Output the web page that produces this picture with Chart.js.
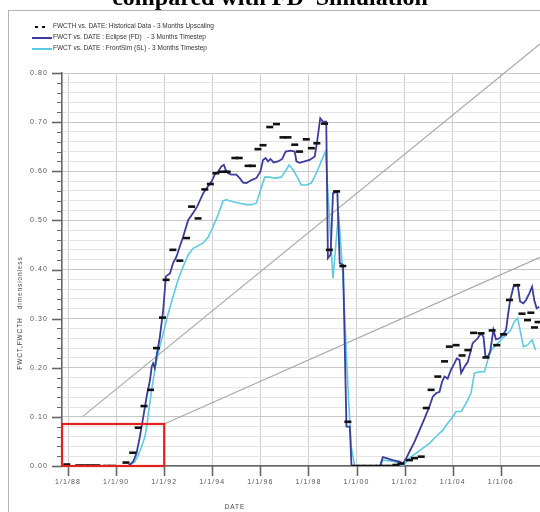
<!DOCTYPE html>
<html>
<head>
<meta charset="utf-8">
<script src="https://cdn.jsdelivr.net/npm/chart.js@4.4.1/dist/chart.umd.min.js"></script>
<style>
  html, body { margin: 0; padding: 0; background: #fff; }
  #wrap { position: relative; width: 540px; height: 512px; overflow: hidden; }
  #plot { position: absolute; left: 0; top: 0; }
  .title { position: absolute; left: 0; top: -15px; width: 540px; text-align: center;
           font: bold 24px "Liberation Serif", serif; line-height: 24px; white-space: pre; color: #000; }
  .legend { position: absolute; left: 30px; top: 21px; font: 6.5px "Liberation Sans", Arial, sans-serif;
            line-height: 10.8px; color: #333; }
  .legend div { position: relative; padding-left: 23px; height: 10.8px; white-space: pre; }
  .legend .swatch { position: absolute; left: 2px; top: 5px; width: 20px; height: 2px; }
  .legend .dot { position: absolute; top: 5px; width: 3px; height: 2px; background: #111; }
</style>
</head>
<body>
<div id="wrap">
  <canvas id="plot" width="540" height="512"></canvas>
  <div class="title">compared with FD  Simulation</div>
  <div class="legend">
    <div><span class="dot" style="left:5px"></span><span class="dot" style="left:12px"></span>FWCTH vs. DATE: Historical Data - 3 Months Upscaling</div>
    <div><span class="swatch" style="background:#3c3c9c"></span>FWCT vs. DATE : Eclipse (FD)   - 3 Months Timestep</div>
    <div><span class="swatch" style="background:#5ccbe0"></span>FWCT vs. DATE : FrontSim (SL) - 3 Months Timestep</div>
  </div>
</div>
<script>
// axis ticks (x in decimal years, labelled on New Year's Day)
const xTickYears = [1988, 1990, 1992, 1994, 1996, 1998, 2000, 2002, 2004, 2006];
const xTickLabels = ['1/1/88', '1/1/90', '1/1/92', '1/1/94', '1/1/96', '1/1/98', '1/1/00', '1/1/02', '1/1/04', '1/1/06'];
const yTickLabels = ['0.00', '0.10', '0.20', '0.30', '0.40', '0.50', '0.60', '0.70', '0.80'];

// FWCTH - historical water cut, 3 month upscaling
const histYears = [1987.95, 1988.45, 1988.7, 1988.95, 1989.2, 1989.6, 1989.85, 1990.41, 1990.69, 1990.92,
  1991.16, 1991.43, 1991.68, 1991.93, 1992.08, 1992.36, 1992.65, 1992.93, 1993.14, 1993.41,
  1993.69, 1993.92, 1994.15, 1994.4, 1994.62, 1994.94, 1995.12, 1995.49, 1995.67, 1995.9,
  1996.11, 1996.39, 1996.67, 1996.94, 1997.15, 1997.43, 1997.63, 1997.91, 1998.12, 1998.35,
  1998.67, 1998.87, 1999.17, 1999.43, 1999.64, 1999.95, 2000.2, 2000.45, 2000.7, 2000.95,
  2001.2, 2001.45, 2001.64, 2001.85, 2002.2, 2002.41, 2002.69, 2002.9, 2003.1, 2003.38,
  2003.66, 2003.86, 2004.14, 2004.39, 2004.63, 2004.87, 2005.18, 2005.38, 2005.64, 2005.83,
  2006.11, 2006.36, 2006.66, 2006.88, 2007.11, 2007.25, 2007.4, 2007.55];
const histValues = [0.003, 0.001, 0.001, 0.001, 0.001, 0.0, 0.0, 0.007, 0.027, 0.078,
  0.122, 0.155, 0.240, 0.302, 0.379, 0.440, 0.418, 0.464, 0.528, 0.504,
  0.563, 0.574, 0.596, 0.599, 0.599, 0.627, 0.627, 0.611, 0.611, 0.645,
  0.653, 0.690, 0.696, 0.669, 0.669, 0.654, 0.640, 0.665, 0.647, 0.657,
  0.697, 0.440, 0.559, 0.407, 0.090, 0.0, 0.0, 0.0, 0.0, 0.0,
  0.0, 0.0, 0.002, 0.005, 0.012, 0.016, 0.019, 0.118, 0.155, 0.182,
  0.213, 0.243, 0.246, 0.225, 0.236, 0.271, 0.270, 0.221, 0.276, 0.246,
  0.268, 0.338, 0.368, 0.310, 0.297, 0.312, 0.282, 0.293];

// FWCT - Eclipse (FD), 3 month timestep
const eclipseYears = [1987.8, 1990.5, 1990.71, 1990.85, 1990.99, 1991.13, 1991.27, 1991.41, 1991.48, 1991.54,
  1991.61, 1991.68, 1991.82, 1991.96, 1992.07, 1992.24, 1992.37, 1992.51, 1992.65, 1992.79,
  1993.0, 1993.2, 1993.37, 1993.62, 1993.8, 1993.97, 1994.1, 1994.24, 1994.38, 1994.48,
  1994.56, 1994.66, 1994.8, 1995.0, 1995.14, 1995.28, 1995.42, 1995.63, 1995.83, 1996.0,
  1996.11, 1996.22, 1996.32, 1996.42, 1996.55, 1996.73, 1996.91, 1997.05, 1997.25, 1997.43,
  1997.5, 1997.63, 1997.84, 1998.05, 1998.26, 1998.35, 1998.49, 1998.6, 1998.74, 1998.81,
  1998.92, 1999.02, 1999.2, 1999.3, 1999.44, 1999.58, 1999.72, 1999.79, 2000.98, 2001.09,
  2001.25, 2001.5, 2001.79, 2001.93, 2002.07, 2002.2, 2002.41, 2002.62, 2002.83, 2003.03,
  2003.17, 2003.31, 2003.45, 2003.56, 2003.66, 2003.79, 2003.93, 2004.07, 2004.17, 2004.28,
  2004.35, 2004.49, 2004.63, 2004.83, 2005.04, 2005.18, 2005.28, 2005.36, 2005.46, 2005.56,
  2005.64, 2005.69, 2005.8, 2005.94, 2006.08, 2006.22, 2006.29, 2006.39, 2006.53, 2006.7,
  2006.8, 2006.94, 2007.05, 2007.19, 2007.3, 2007.39, 2007.49, 2007.6];
const eclipseValues = [0.0, 0.0, 0.009, 0.026, 0.060, 0.100, 0.141, 0.175, 0.202, 0.209,
  0.199, 0.223, 0.263, 0.318, 0.386, 0.392, 0.413, 0.426, 0.447, 0.467,
  0.501, 0.515, 0.528, 0.555, 0.568, 0.579, 0.593, 0.599, 0.610, 0.613,
  0.603, 0.596, 0.593, 0.593, 0.586, 0.577, 0.576, 0.582, 0.586, 0.599,
  0.623, 0.627, 0.620, 0.625, 0.618, 0.620, 0.625, 0.640, 0.642, 0.640,
  0.620, 0.617, 0.620, 0.623, 0.630, 0.657, 0.708, 0.701, 0.701, 0.423,
  0.430, 0.555, 0.559, 0.413, 0.409, 0.080, 0.080, 0.0, 0.0, 0.018,
  0.016, 0.012, 0.009, 0.005, 0.016, 0.029, 0.049, 0.073, 0.097, 0.121,
  0.141, 0.148, 0.151, 0.172, 0.182, 0.178, 0.196, 0.209, 0.219, 0.216,
  0.189, 0.202, 0.212, 0.250, 0.260, 0.270, 0.263, 0.223, 0.223, 0.233,
  0.260, 0.277, 0.258, 0.260, 0.267, 0.277, 0.304, 0.338, 0.365, 0.369,
  0.335, 0.331, 0.338, 0.352, 0.365, 0.338, 0.321, 0.324];

// FWCT - FrontSim (SL), 3 month timestep
const frontsimYears = [1987.8, 1990.55, 1990.78, 1990.92, 1991.06, 1991.2, 1991.29, 1991.38, 1991.48, 1991.61,
  1991.75, 1991.89, 1992.03, 1992.17, 1992.37, 1992.58, 1992.79, 1993.0, 1993.2, 1993.37,
  1993.62, 1993.83, 1994.03, 1994.24, 1994.45, 1994.59, 1994.86, 1995.14, 1995.42, 1995.63,
  1995.83, 1996.01, 1996.18, 1996.39, 1996.6, 1996.87, 1997.08, 1997.19, 1997.36, 1997.56,
  1997.7, 1997.91, 1998.12, 1998.33, 1998.53, 1998.71, 1999.02, 1999.25, 1999.43, 1999.57,
  1999.67, 1999.78, 1999.92, 2001.0, 2001.09, 2001.5, 2001.79, 2001.93, 2002.2, 2002.48,
  2002.75, 2003.03, 2003.31, 2003.59, 2003.79, 2004.0, 2004.14, 2004.35, 2004.56, 2004.76,
  2004.9, 2005.1, 2005.32, 2005.46, 2005.6, 2005.8, 2006.01, 2006.22, 2006.42, 2006.56,
  2006.7, 2006.8, 2006.94, 2007.11, 2007.3, 2007.44];
const frontsimValues = [0.0, 0.0, 0.009, 0.022, 0.039, 0.060, 0.087, 0.121, 0.155, 0.196,
  0.230, 0.257, 0.284, 0.311, 0.345, 0.379, 0.406, 0.430, 0.443, 0.447,
  0.454, 0.466, 0.487, 0.511, 0.540, 0.542, 0.538, 0.535, 0.532, 0.532,
  0.535, 0.562, 0.588, 0.588, 0.586, 0.588, 0.603, 0.613, 0.603, 0.586,
  0.572, 0.572, 0.576, 0.596, 0.620, 0.640, 0.382, 0.515, 0.392, 0.236,
  0.134, 0.039, 0.0, 0.0, 0.012, 0.010, 0.005, 0.0, 0.016, 0.026,
  0.036, 0.046, 0.060, 0.073, 0.087, 0.100, 0.111, 0.111, 0.128, 0.148,
  0.189, 0.192, 0.192, 0.216, 0.236, 0.246, 0.257, 0.267, 0.277, 0.294,
  0.301, 0.277, 0.243, 0.246, 0.257, 0.236];

// early-time zoom window and the two guide lines leading out of it (data units)
const zoomBox = [1987.75, 0.0, 1992.0, 0.0855];
const guideLines = [
  [1988.59, 0.100, 2007.63, 0.859],
  [1992.0, 0.0855, 2007.63, 0.425]
];

const toPoints = (xs, ys) => xs.map((x, i) => ({ x: x, y: ys[i] }));

const decorations = {
  id: 'decorations',
  beforeDraw(chart) {
    chart.ctx.letterSpacing = '1.1px';
  },
  beforeDatasetsDraw(chart) {
    const { ctx, scales: { x, y } } = chart;
    ctx.save();
    ctx.strokeStyle = '#a8a8a8';
    ctx.lineWidth = 1.2;
    guideLines.forEach(l => {
      ctx.beginPath();
      ctx.moveTo(x.getPixelForValue(l[0]), y.getPixelForValue(l[1]));
      ctx.lineTo(x.getPixelForValue(l[2]), y.getPixelForValue(l[3]));
      ctx.stroke();
    });
    ctx.restore();
  },
  afterDatasetsDraw(chart) {
    const { ctx, scales: { x, y } } = chart;
    const x0 = x.getPixelForValue(zoomBox[0]), y0 = y.getPixelForValue(zoomBox[1]);
    const x1 = x.getPixelForValue(zoomBox[2]), y1 = y.getPixelForValue(zoomBox[3]);
    ctx.save();
    ctx.strokeStyle = '#e3201b';
    ctx.lineWidth = 2.2;
    ctx.strokeRect(x0, y1, x1 - x0, y0 - y1);
    ctx.restore();
  },
  afterDraw(chart) {
    const { ctx, chartArea: a, scales: { x, y } } = chart;
    ctx.save();
    ctx.strokeStyle = '#666';
    // y ticks: long at labelled values, short in between
    y.ticks.forEach((t, i) => {
      const py = Math.round(y.getPixelForValue(t.value)) + 0.5;
      const major = i % 5 === 0;
      ctx.lineWidth = major ? 1.6 : 1;
      ctx.beginPath();
      ctx.moveTo(a.left - (major ? 10 : 5), py);
      ctx.lineTo(a.left, py);
      ctx.stroke();
    });
    ctx.lineWidth = 1.6;
    x.ticks.forEach(t => {
      const px = Math.round(x.getPixelForValue(t.value)) + 0.5;
      ctx.beginPath();
      ctx.moveTo(px, a.bottom);
      ctx.lineTo(px, a.bottom + 10);
      ctx.stroke();
    });
    // axis titles
    ctx.fillStyle = '#444';
    ctx.font = '6.5px "Liberation Sans", Arial, sans-serif';
    ctx.letterSpacing = '0.9px';
    ctx.textAlign = 'center';
    ctx.textBaseline = 'middle';
    ctx.fillText('DATE', 235, 507);
    ctx.translate(20, 313);
    ctx.rotate(-Math.PI / 2);
    ctx.fillText('FWCT,FWCTH   dimensionless', 0, 0);
    ctx.restore();
    // outer frame
    ctx.save();
    ctx.strokeStyle = '#b4b4b4';
    ctx.lineWidth = 1;
    ctx.strokeRect(8.5, 10.5, 600, 600);
    ctx.restore();
  }
};

new Chart(document.getElementById('plot'), {
  type: 'scatter',
  data: {
    datasets: [
      {
        label: 'FWCTH vs. DATE: Historical Data - 3 Months Upscaling',
        data: toPoints(histYears, histValues),
        showLine: false,
        pointStyle: 'line',
        pointRadius: 3.5,
        borderColor: '#111',
        borderWidth: 2.6
      },
      {
        label: 'FWCT vs. DATE : Eclipse (FD) - 3 Months Timestep',
        data: toPoints(eclipseYears, eclipseValues),
        showLine: true,
        borderColor: '#3c3c9c',
        borderWidth: 1.8,
        pointRadius: 0,
        tension: 0
      },
      {
        label: 'FWCT vs. DATE : FrontSim (SL) - 3 Months Timestep',
        data: toPoints(frontsimYears, frontsimValues),
        showLine: true,
        borderColor: '#5ccbe0',
        borderWidth: 1.6,
        pointRadius: 0,
        tension: 0
      }
    ]
  },
  options: {
    responsive: false,
    animation: false,
    layout: { autoPadding: false, padding: { top: 73, left: 0, right: 0, bottom: 0 } },
    plugins: { legend: { display: false }, tooltip: { enabled: false } },
    scales: {
      x: {
        type: 'linear',
        min: 1987.75,
        max: 2007.63,
        afterBuildTicks: s => { s.ticks = xTickYears.map(v => ({ value: v })); },
        afterFit: s => { s.height = 46; s.paddingLeft = 0; s.paddingRight = 0; },
        grid: { color: '#cfcfcf', lineWidth: 1, drawTicks: false },
        border: { display: true, color: '#666', width: 1.6 },
        ticks: {
          autoSkip: false,
          maxRotation: 0,
          padding: 12,
          color: '#555',
          font: { family: '"Liberation Sans", Arial, sans-serif', size: 7 },
          callback: (v, i) => xTickLabels[i]
        }
      },
      y: {
        min: 0,
        max: 0.8,
        afterBuildTicks: s => {
          const ticks = [];
          for (let i = 0; i <= 40; i++) ticks.push({ value: i * 0.02 });
          s.ticks = ticks;
        },
        afterFit: s => { s.width = 62; s.paddingTop = 0; s.paddingBottom = 0; },
        grid: {
          drawTicks: false,
          color: c => (c.index % 5 === 0 ? '#c6c6c6' : '#e4e4e4'),
          lineWidth: 1
        },
        border: { display: true, color: '#666', width: 1.6 },
        ticks: {
          autoSkip: false,
          padding: 14,
          color: '#555',
          font: { family: '"Liberation Sans", Arial, sans-serif', size: 7 },
          callback: (v, i) => (i % 5 === 0 ? yTickLabels[i / 5] : '')
        }
      }
    }
  },
  plugins: [decorations]
});
</script>
</body>
</html>
